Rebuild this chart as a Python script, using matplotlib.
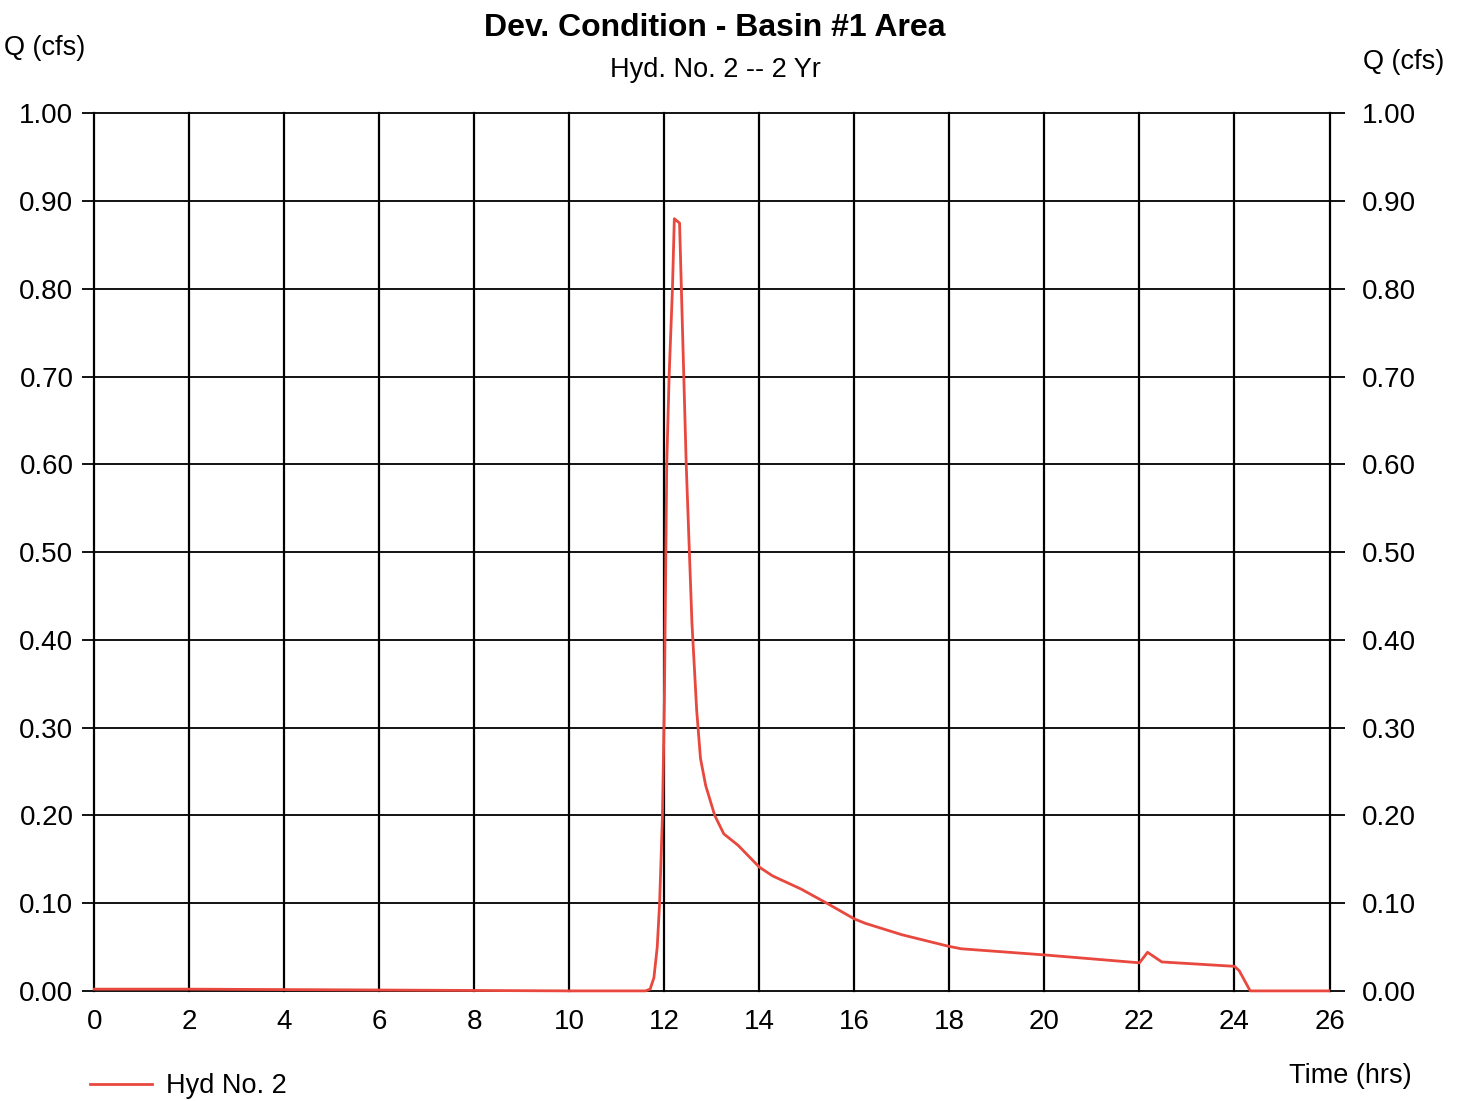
import matplotlib
matplotlib.use("Agg")
import matplotlib.pyplot as plt
from matplotlib.lines import Line2D

plt.rcParams['font.family'] = ['Liberation Sans', 'DejaVu Sans']

# Hydrograph ordinates: time (hrs) and discharge Q (cfs)
time_hrs = [0, 2, 4, 6, 8, 10, 11.6, 11.7, 11.78, 11.85, 11.9, 11.96, 12.0,
            12.05, 12.1, 12.17, 12.21, 12.32, 12.46, 12.58, 12.68, 12.76,
            12.87, 13.06, 13.25, 13.55, 14.0, 14.28, 14.88, 15.45, 16.0,
            16.23, 17.0, 17.97, 18.25, 20.0, 22.0, 22.17, 22.47, 24.0, 24.1,
            24.33, 26.0]
flow_cfs = [0.002, 0.002, 0.0015, 0.001, 0.0005, 0.0, 0.0, 0.002, 0.015,
            0.05, 0.10, 0.20, 0.33, 0.60, 0.70, 0.80, 0.88, 0.875, 0.60,
            0.42, 0.32, 0.265, 0.234, 0.20, 0.179, 0.166, 0.141, 0.131,
            0.116, 0.099, 0.082, 0.077, 0.064, 0.051, 0.048, 0.041, 0.032,
            0.044, 0.033, 0.028, 0.023, 0.0, 0.0]

x_ticks = list(range(0, 27, 2))
y_ticks = [i / 10 for i in range(11)]
y_labels = [f"{v:.2f}" for v in y_ticks]

title = "Dev. Condition - Basin #1 Area"
subtitle = "Hyd. No. 2 -- 2 Yr"
series_name = "Hyd No. 2"
line_color = "#e8483e"
label_size = 20
text_size = 19.5

fig = plt.figure(figsize=(14.61, 11.01), dpi=100)
ax = fig.add_axes([0.0645, 0.100, 0.8455, 0.797])
ax.set_xlim(0, 26)
ax.set_ylim(0, 1)

for s in ax.spines.values():
    s.set_visible(False)

# grid: vertical every 2 hrs, horizontal every 0.10 cfs
for x in x_ticks:
    ax.axvline(x, color="black", lw=1.6, zorder=1, clip_on=False)
for y in y_ticks:
    ax.axhline(y, color="black", lw=1.3, zorder=1, clip_on=False)

ax.plot(time_hrs, flow_cfs, color=line_color, lw=2.0, zorder=3,
        clip_on=False, solid_joinstyle="round")

ax.set_xticks(x_ticks)
ax.set_xticklabels([str(x) for x in x_ticks])
ax.set_yticks(y_ticks)
ax.set_yticklabels(y_labels)
ax.tick_params(axis="x", length=0, pad=13, labelsize=label_size)
ax.tick_params(axis="y", direction="out", length=9, width=1.3,
               left=True, right=False, labelleft=True, labelright=False,
               labelsize=label_size, pad=6)

# right-hand Q axis
axr = ax.twinx()
axr.set_ylim(0, 1)
for s in axr.spines.values():
    s.set_visible(False)
axr.set_yticks(y_ticks)
axr.set_yticklabels(y_labels)
axr.tick_params(axis="y", direction="out", length=11, width=1.3,
                labelsize=label_size, pad=12)

fig.text(0.489, 0.975, title, ha="center", va="center", fontsize=23,
         fontweight="bold")
fig.text(0.490, 0.936, subtitle, ha="center", va="center", fontsize=text_size)
fig.text(0.003, 0.956, "Q (cfs)", ha="left", va="center", fontsize=text_size)
fig.text(0.961, 0.944, "Q (cfs)", ha="center", va="center", fontsize=text_size)
fig.text(0.966, 0.023, "Time (hrs)", ha="right", va="center", fontsize=text_size)

fig.add_artist(Line2D([90 / 1461, 152 / 1461], [1 - 1084 / 1101] * 2,
                      color=line_color, lw=2.0, transform=fig.transFigure))
fig.text(166 / 1461, 1 - 1086 / 1101, series_name, ha="left", va="center",
         fontsize=text_size)

fig.savefig("out.png", dpi=100, facecolor="white")
